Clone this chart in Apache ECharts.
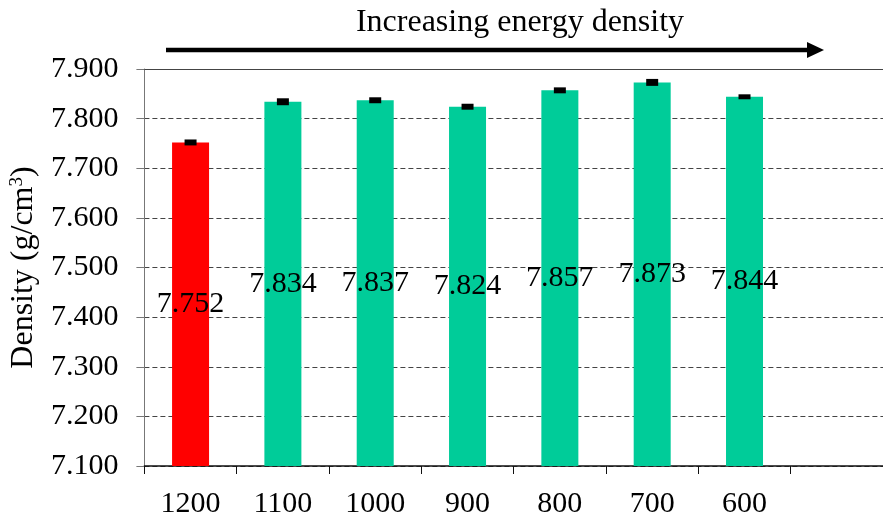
<!DOCTYPE html>
<html>
<head>
<meta charset="utf-8">
<script src="https://cdn.jsdelivr.net/npm/echarts@6/dist/echarts.min.js"></script>
<style>html,body{margin:0;padding:0;background:#fff;}#c{width:883px;height:519px;}</style>
</head>
<body>
<div id="c"></div>
<script>
const categories = ['1200','1100','1000','900','800','700','600',''];
const densities = [7.752, 7.834, 7.837, 7.824, 7.857, 7.873, 7.844];
const errors = [0.006, 0.007, 0.006, 0.006, 0.006, 0.007, 0.005];
const barColors = ['#FF0000','#00CC99','#00CC99','#00CC99','#00CC99','#00CC99','#00CC99'];
const yTicks = {min: 7.1, max: 7.9, interval: 0.1};
const titleText = 'Increasing energy density';
const FONT = '"Liberation Serif", "Times New Roman", serif';

const chart = echarts.init(document.getElementById('c'));
const barData = densities.map((v, i) => ({value: v, itemStyle: {color: barColors[i]}}));
const errData = densities.map((v, i) => [i, v - errors[i], v + errors[i]]);

chart.setOption({
  animation: false,
  backgroundColor: '#fff',
  grid: {left: 144, top: 69, width: 741, height: 399},
  xAxis: [{
    type: 'category', data: categories, boundaryGap: true, position: 'bottom',
    axisLine: {lineStyle: {color: '#111', width: 1.5}},
    axisTick: {show: true, length: 8, lineStyle: {color: '#111'}},
    axisLabel: {fontFamily: FONT, fontSize: 30, color: '#000', margin: 23, interval: 0}
  }, {
    type: 'category', data: categories, position: 'top',
    axisLine: {show: true, lineStyle: {color: '#444', width: 1}},
    axisTick: {show: false}, axisLabel: {show: false}
  }],
  yAxis: {
    type: 'value', min: yTicks.min, max: yTicks.max, interval: yTicks.interval,
    name: 'Density (g/cm{sup|3})', nameLocation: 'middle', nameGap: 99,
    nameTextStyle: {fontFamily: FONT, fontSize: 32, color: '#000',
      rich: {sup: {fontFamily: FONT, fontSize: 19, verticalAlign: 'top', padding: [0,0,13,0]}}},
    axisLine: {show: true, lineStyle: {color: '#777', width: 1}},
    axisTick: {show: true, length: 8, lineStyle: {color: '#777'}},
    axisLabel: {fontFamily: FONT, fontSize: 30, color: '#000', margin: 26,
      formatter: v => v.toFixed(3)},
    splitLine: {show: true, lineStyle: {color: '#444', type: [5, 3], width: 1}}
  },
  series: [{
    type: 'bar', data: barData, barWidth: 37, xAxisIndex: 0,
    label: {show: true, position: 'inside', fontFamily: FONT, fontSize: 30, color: '#000',
      formatter: p => p.value.toFixed(3)}
  }, {
    type: 'custom', xAxisIndex: 0, data: errData, z: 5,
    renderItem: function (params, api) {
      const x = api.coord([api.value(0), api.value(1)])[0];
      const yLo = api.coord([api.value(0), api.value(1)])[1];
      const yHi = api.coord([api.value(0), api.value(2)])[1];
      return {type: 'rect', shape: {x: x - 6, y: yHi, width: 12, height: yLo - yHi},
        style: {fill: '#000'}};
    }
  }],
  graphic: [
    {type: 'text', x: 520, y: 7, style: {text: titleText, fontFamily: FONT, fontSize: 32, fill: '#000', textAlign: 'center', textVerticalAlign: 'top'}},
    {type: 'line', shape: {x1: 166, y1: 50, x2: 810, y2: 50}, style: {stroke: '#000', lineWidth: 4.5}},
    {type: 'polygon', shape: {points: [[807, 42], [824, 50], [807, 58]]}, style: {fill: '#000'}}
  ]
});
</script>
</body>
</html>
